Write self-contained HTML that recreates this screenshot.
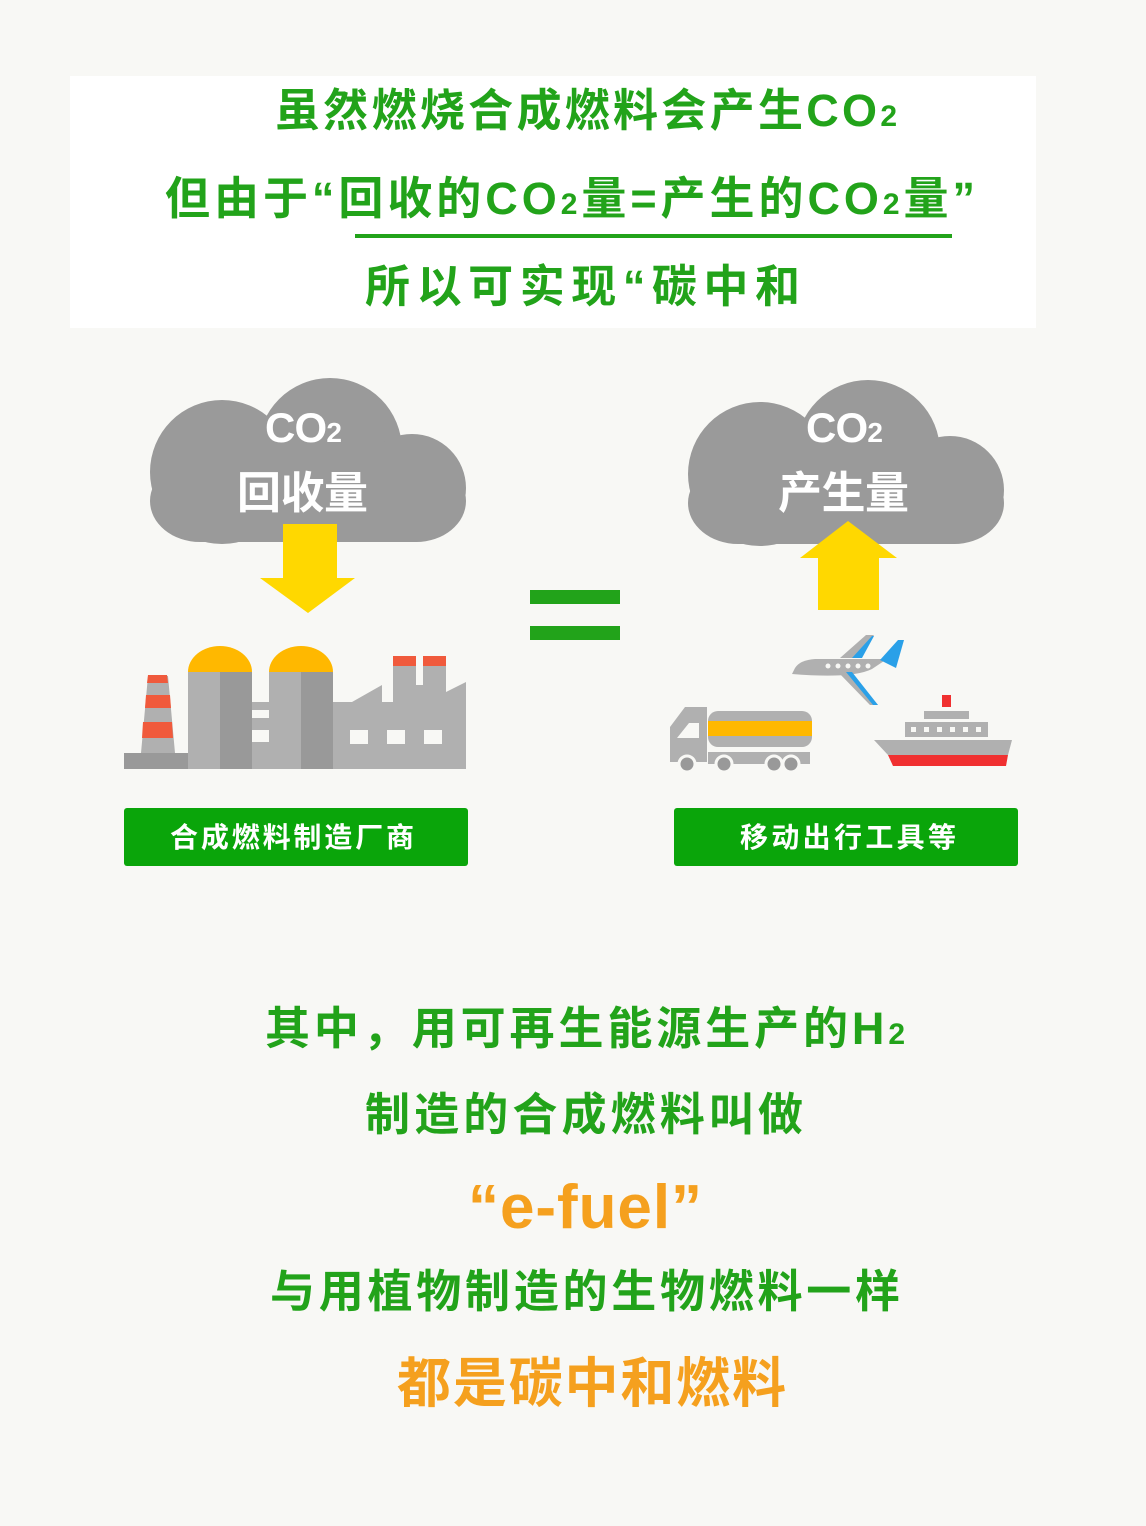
<!DOCTYPE html>
<html><head><meta charset="utf-8"><style>
html,body{margin:0;padding:0;background:#f8f8f5;}
svg{display:block}
text{font-family:"Liberation Sans","Noto Sans CJK SC",sans-serif;font-weight:bold}
</style></head><body>
<svg width="1146" height="1526" viewBox="0 0 1146 1526" xmlns="http://www.w3.org/2000/svg">
<rect width="1146" height="1526" fill="#f8f8f5"/>
<rect x="70" y="76" width="966" height="252" fill="#ffffff"/>
<g fill="#22a31a">
<text x="275" y="126" font-size="45" textLength="622" lengthAdjust="spacing">虽然燃烧合成燃料会产生CO<tspan font-size="30">2</tspan></text>
<text x="165" y="214" font-size="45" textLength="810" lengthAdjust="spacing">但由于“回收的CO<tspan font-size="30">2</tspan>量=产生的CO<tspan font-size="30">2</tspan>量”</text>
<text x="365" y="302" font-size="45" textLength="435" lengthAdjust="spacing">所以可实现“碳中和</text>
</g>
<rect x="355" y="234" width="597" height="4" fill="#22a31a"/>

<!-- clouds -->
<g fill="#9a9a9a">
<circle cx="222" cy="472" r="72"/><circle cx="330" cy="450" r="72"/><circle cx="412" cy="488" r="54"/>
<rect x="150" y="460" width="316" height="82" rx="50"/>
<circle cx="760" cy="474" r="72"/><circle cx="868" cy="452" r="72"/><circle cx="950" cy="490" r="54"/>
<rect x="688" y="462" width="316" height="82" rx="50"/>
</g>
<g fill="#fff">
<text x="265" y="442" font-size="42" textLength="77" lengthAdjust="spacing">CO<tspan font-size="28">2</tspan></text>
<text x="237" y="508" font-size="44" textLength="131" lengthAdjust="spacing">回收量</text>
<text x="806" y="442" font-size="42" textLength="77" lengthAdjust="spacing">CO<tspan font-size="28">2</tspan></text>
<text x="778" y="508" font-size="44" textLength="131" lengthAdjust="spacing">产生量</text>
</g>
<!-- arrows -->
<polygon fill="#ffd800" points="283,524 337,524 337,578 355,578 308,613 260,578 283,578"/>
<polygon fill="#ffd800" points="848,521 897,558 879,558 879,610 818,610 818,558 800,558"/>
<!-- equals -->
<rect x="530" y="590" width="90" height="14" fill="#22a31a"/>
<rect x="530" y="626" width="90" height="14" fill="#22a31a"/>

<!-- factory -->
<rect x="124" y="753" width="64" height="16" fill="#999"/>
<polygon points="148,676 168,676 175,753 141,753" fill="#b0b0b0"/>
<polygon points="148,675 167,675 168,683 147,683" fill="#f05a3c"/>
<polygon points="146,695 170,695 171,708 145,708" fill="#f05a3c"/>
<polygon points="143,722 172,722 173,738 142,738" fill="#f05a3c"/>
<path d="M188,672 a32,26 0 0 1 64,0 z" fill="#ffb800"/>
<rect x="188" y="672" width="32" height="97" fill="#b0b0b0"/><rect x="220" y="672" width="32" height="97" fill="#999"/>
<rect x="252" y="702" width="17" height="67" fill="#b0b0b0"/>
<rect x="252" y="710" width="17" height="8" fill="#f8f8f5"/><rect x="252" y="730" width="17" height="12" fill="#f8f8f5"/>
<path d="M269,672 a32,26 0 0 1 64,0 z" fill="#ffb800"/>
<rect x="269" y="672" width="32" height="97" fill="#b0b0b0"/><rect x="301" y="672" width="32" height="97" fill="#999"/>
<polygon points="333,702 352,702 382,685 382,702 393,702 393,657 416,657 416,685 423,685 423,657 446,657 446,692 466,682 466,769 333,769" fill="#b0b0b0"/>
<rect x="393" y="656" width="23" height="10" fill="#f05a3c"/><rect x="423" y="656" width="23" height="10" fill="#f05a3c"/>
<rect x="350" y="730" width="18" height="14" fill="#f8f8f5"/><rect x="387" y="730" width="18" height="14" fill="#f8f8f5"/><rect x="424" y="730" width="18" height="14" fill="#f8f8f5"/>

<!-- truck -->
<path d="M670,762 v-35 l15,-20 h22 v55 z" fill="#b0b0b0"/>
<path d="M677,738 l12,-15 h10 v15 z" fill="#f8f8f5"/>
<rect x="708" y="711" width="104" height="36" rx="10" fill="#b0b0b0"/>
<rect x="708" y="721" width="104" height="15" fill="#ffb800"/>
<rect x="708" y="752" width="102" height="12" fill="#b0b0b0"/>
<g fill="#999" stroke="#f8f8f5" stroke-width="3"><circle cx="687" cy="764" r="8"/><circle cx="724" cy="764" r="8"/><circle cx="774" cy="764" r="8"/><circle cx="791" cy="764" r="8"/></g>
<!-- plane -->
<path d="M795,668 q5,-8 20,-9 h72 l-15,10 q-20,10 -80,5 z" fill="#b0b0b0"/>
<polygon points="840,658 866,635 874,635 858,658" fill="#b0b0b0"/><polygon points="852,658 872,636 874,636 862,658" fill="#2aa0e8"/>
<polygon points="848,670 878,705 870,705 838,672" fill="#b0b0b0"/><polygon points="852,672 878,705 873,705 846,672" fill="#2aa0e8"/>
<polygon points="880,660 898,640 904,640 896,668" fill="#2aa0e8"/>
<g fill="#f8f8f5"><circle cx="828" cy="666" r="2.5"/><circle cx="838" cy="666" r="2.5"/><circle cx="848" cy="666" r="2.5"/><circle cx="858" cy="666" r="2.5"/><circle cx="868" cy="666" r="2.5"/></g>
<!-- ship -->
<rect x="942" y="695" width="9" height="12" fill="#f03030"/>
<rect x="924" y="711" width="45" height="8" fill="#b0b0b0"/>
<rect x="905" y="722" width="83" height="15" fill="#b0b0b0"/>
<g fill="#f8f8f5"><rect x="911" y="727" width="5" height="5"/><rect x="924" y="727" width="5" height="5"/><rect x="937" y="727" width="5" height="5"/><rect x="950" y="727" width="5" height="5"/><rect x="963" y="727" width="5" height="5"/><rect x="976" y="727" width="5" height="5"/></g>
<polygon points="874,740 1012,740 1008,755 888,755" fill="#b0b0b0"/>
<polygon points="888,755 1008,755 1006,766 893,766" fill="#f03030"/>

<!-- buttons -->
<rect x="124" y="808" width="344" height="58" rx="3" fill="#0aa50a"/>
<rect x="674" y="808" width="344" height="58" rx="3" fill="#0aa50a"/>
<g fill="#fff" font-size="28">
<text x="170" y="847" textLength="244" lengthAdjust="spacing">合成燃料制造厂商</text>
<text x="740" y="847" textLength="216" lengthAdjust="spacing">移动出行工具等</text>
</g>

<!-- bottom text -->
<g>
<text x="265" y="1044" font-size="45" fill="#22a31a" textLength="640" lengthAdjust="spacing">其中，用可再生能源生产的H<tspan font-size="30">2</tspan></text>
<text x="365" y="1130" font-size="45" fill="#22a31a" textLength="438" lengthAdjust="spacing">制造的合成燃料叫做</text>
<text x="468" y="1228" font-size="62" fill="#f5a01e" textLength="234" lengthAdjust="spacing">“e-fuel”</text>
<text x="270" y="1307" font-size="45" fill="#22a31a" textLength="630" lengthAdjust="spacing">与用植物制造的生物燃料一样</text>
<text x="397" y="1402" font-size="54" fill="#f5a01e" textLength="389" lengthAdjust="spacing">都是碳中和燃料</text>
</g>
</svg>
</body></html>
